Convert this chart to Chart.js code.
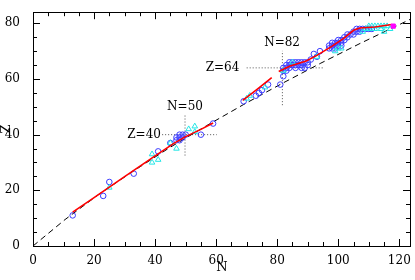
<!DOCTYPE html>
<html>
<head>
<meta charset="UTF-8">
<title>N-Z chart</title>
<script src="https://cdn.jsdelivr.net/npm/chart.js"></script>
<style>
    body { margin: 0; background: #fff; }
    #wrap { width: 415px; height: 280px; }
</style>
</head>
<body>
<div id="wrap"><canvas id="nz" width="415" height="280"></canvas></div>
<script>
// tick labels
const xTicks = [0, 20, 40, 60, 80, 100, 120];
const yTicks = [0, 20, 40, 60, 80];

// stability line (dashed)
const stabN = [0, 10.5, 21.5, 33, 44.7, 56.8, 69.1, 81.6, 94.3, 107.2, 120.3, 123.5];
const stabZ = [0, 9.5, 18.5, 27, 35.3, 43.2, 50.9, 58.4, 65.7, 72.8, 79.7, 81.4];

// red fitted segments
const seg1N = [13, 20, 30, 40, 46, 50, 55, 59];
const seg1Z = [12.2, 17.4, 24.9, 32.4, 36.8, 39.3, 41.9, 44.2];
const seg2N = [68.7, 73.5, 78.2];
const seg2Z = [52.3, 56.4, 60.5];
const seg3N = [80.5, 84, 89.5, 93, 98, 102, 105, 107, 112, 117.5];
const seg3Z = [62.7, 64.6, 66.5, 68.5, 71.8, 74.8, 77.5, 78.3, 78.7, 79.6];

// blue circles
const circN = [13, 23, 25, 33, 41, 45, 47, 47, 48, 48, 48, 49, 49, 50, 55, 59,
    69, 73, 74, 75, 77,
    81, 82, 82, 82, 83, 83, 83, 84, 84, 84, 85, 85, 86, 86, 86, 87, 87, 88, 88, 88, 89, 89, 90, 90, 91,
    92, 93, 94,
    97, 97, 98, 98, 98, 99, 99, 99, 100, 100, 100, 101, 101, 101, 102, 102, 103, 103,
    104, 105, 105, 106, 106, 107, 107, 108, 109, 110, 111];
const circZ = [11, 18, 23, 26, 34, 37, 38, 39, 38, 39, 40, 39, 40, 40, 40, 44,
    52, 54, 55, 56, 58,
    58, 61, 63, 64, 63, 64, 65, 64, 65, 66, 65, 66, 64, 65, 66, 65, 66, 64, 65, 66, 64, 66, 65, 66, 67,
    69, 68, 70,
    71, 72, 71, 72, 73, 71, 72, 73, 72, 73, 74, 72, 73, 74, 74, 75, 75, 76,
    76, 76, 77, 77, 78, 77, 78, 78, 78, 78, 78];

// cyan triangles
const triN = [25, 39, 39, 41, 45, 47, 51, 53, 53, 70, 71, 76, 82, 85, 93, 99, 100, 101,
    108, 109, 110, 111, 112, 113, 114, 115, 116, 110, 112, 114, 115, 117];
const triZ = [21, 33, 30, 31, 37, 35, 42, 43, 41, 53, 54, 57, 63, 66, 68, 70, 71, 71,
    77, 78, 79, 79, 79, 79, 79, 79, 79, 78, 78, 78, 77, 78];

// magenta square
const sqN = [118];
const sqZ = [79];

// magic number guide lines and labels
const guides = [
    { n: [42.3, 60.2], z: [40, 40] },
    { n: [49.8, 49.8], z: [32.5, 46.9] },
    { n: [70, 95], z: [64, 64] },
    { n: [81.7, 81.7], z: [50.6, 70.1] }
];
const notes = [
    { text: 'N=50', n: 49.8, z: 50.1, align: 'center' },
    { text: 'Z=40', n: 41.9, z: 40, align: 'right' },
    { text: 'N=82', n: 81.6, z: 73.1, align: 'center' },
    { text: 'Z=64', n: 67.6, z: 64, align: 'right' }
];

const pts = (xs, ys) => xs.map((x, i) => ({ x: x, y: ys[i] }));
const FONT = "'DejaVu Serif', serif";

const frameTicks = {
    id: 'frameTicks',
    afterDatasetsDraw(chart) {
        const ctx = chart.ctx;
        const a = chart.chartArea;
        const sx = chart.scales.x, sy = chart.scales.y;
        ctx.save();
        ctx.strokeStyle = '#000';
        ctx.lineWidth = 1;
        ctx.beginPath();
        for (let v = 0; v <= 120; v += 5) {
            const px = Math.round(sx.getPixelForValue(v)) + 0.5;
            const len = v % 20 === 0 ? 7 : 4;
            ctx.moveTo(px, a.bottom); ctx.lineTo(px, a.bottom - len);
            ctx.moveTo(px, a.top); ctx.lineTo(px, a.top + len);
        }
        for (let v = 0; v <= 80; v += 5) {
            const py = Math.round(sy.getPixelForValue(v)) + 0.5;
            const len = v % 20 === 0 ? 7 : 4;
            ctx.moveTo(a.left, py); ctx.lineTo(a.left + len, py);
            ctx.moveTo(a.right, py); ctx.lineTo(a.right - len, py);
        }
        ctx.stroke();
        ctx.strokeRect(Math.round(a.left) + 0.5, Math.round(a.top) + 0.5,
            Math.round(a.right - a.left), Math.round(a.bottom - a.top));

        ctx.fillStyle = '#000';
        ctx.font = '12px ' + FONT;
        ctx.textBaseline = 'middle';
        notes.forEach(t => {
            ctx.textAlign = t.align;
            ctx.fillText(t.text, sx.getPixelForValue(t.n), sy.getPixelForValue(t.z));
        });

        ctx.font = '13px ' + FONT;
        ctx.textAlign = 'center';
        ctx.fillText('N', 222, 268);
        ctx.translate(7, (a.top + a.bottom) / 2);
        ctx.rotate(-Math.PI / 2);
        ctx.fillText('Z', 0, 0);
        ctx.restore();
    }
};

const datasets = [
    { data: pts(sqN, sqZ), pointStyle: 'rect', pointRadius: 3, backgroundColor: '#ff00ff', borderColor: '#ff00ff', borderWidth: 1, order: 0 },
    { data: pts(seg1N, seg1Z), showLine: true, pointRadius: 0, borderColor: '#ff0000', borderWidth: 1.6, order: 1 },
    { data: pts(seg2N, seg2Z), showLine: true, pointRadius: 0, borderColor: '#ff0000', borderWidth: 1.6, order: 1 },
    { data: pts(seg3N, seg3Z), showLine: true, pointRadius: 0, borderColor: '#ff0000', borderWidth: 1.6, order: 1 },
    { data: pts(triN, triZ), pointStyle: 'triangle', pointRadius: 3.2, backgroundColor: 'rgba(0,0,0,0)', borderColor: '#22e6e6', borderWidth: 1, order: 2 },
    { data: pts(circN, circZ), pointStyle: 'circle', pointRadius: 2.8, backgroundColor: 'rgba(0,0,0,0)', borderColor: '#3c3cff', borderWidth: 1, order: 3 },
    { data: pts(stabN, stabZ), showLine: true, pointRadius: 0, borderColor: '#000', borderWidth: 1, borderDash: [6, 4], order: 5 }
];
guides.forEach(g => datasets.push({
    data: pts(g.n, g.z), showLine: true, pointRadius: 0, borderColor: '#555', borderWidth: 1, borderDash: [1, 2], order: 6
}));

new Chart(document.getElementById('nz'), {
    type: 'scatter',
    data: { datasets: datasets },
    options: {
        responsive: false,
        animation: false,
        events: [],
        layout: { padding: { left: 0, right: 2.5, top: 3, bottom: 0 } },
        scales: {
            x: {
                type: 'linear', min: 0, max: 123.5,
                grid: { display: false }, border: { display: false },
                ticks: { color: '#000', padding: 0, maxRotation: 0, autoSkip: false,
                    font: { family: FONT, size: 12 } },
                afterBuildTicks: s => { s.ticks = xTicks.map(v => ({ value: v })); },
                afterFit: s => { s.height = 34; }
            },
            y: {
                type: 'linear', min: 0, max: 84,
                grid: { display: false }, border: { display: false },
                ticks: { color: '#000', padding: 5, autoSkip: false,
                    font: { family: FONT, size: 12 } },
                afterBuildTicks: s => { s.ticks = yTicks.map(v => ({ value: v })); },
                afterFit: s => { s.width = 33; }
            }
        },
        plugins: { legend: { display: false }, tooltip: { enabled: false } }
    },
    plugins: [frameTicks]
});
</script>
</body>
</html>
